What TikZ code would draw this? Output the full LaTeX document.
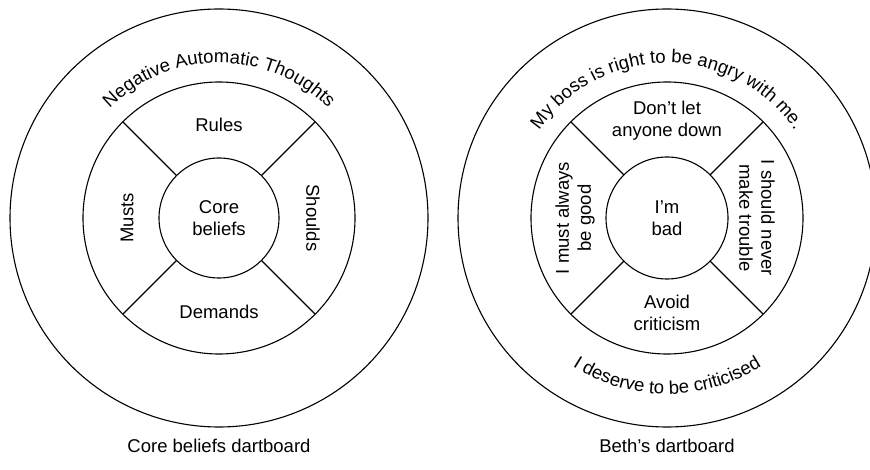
\documentclass[tikz,border=0pt]{standalone}
\usepackage{fontspec}
\setmainfont{Liberation Sans}
\usepackage{tikz}
\usetikzlibrary{positioning,decorations.text}
\newcommand{\boardfont}{\fontsize{18.5}{22}\selectfont}
\tikzstyle{ring} = [circle, draw, line width=1.1pt, inner sep=0pt, outer sep=0pt]
\tikzstyle{word} = [font=\boardfont, align=center, inner sep=0pt]
\tikzstyle{divider} = [line width=1.1pt]

\begin{document}
\begin{tikzpicture}[x=1pt, y=-1pt]
    \useasboundingbox (0,0) rectangle (870,470);
    \clip (0,0) rectangle (870,470);

    \node (outerL) [ring, minimum size=418pt] at (219,218) {};
    \node (midL) [ring, minimum size=272pt] at (219,218) {};
    \node (coreL) [ring, word, minimum size=120pt] at (219,218) {Core\\beliefs};
    \draw [divider] (coreL.north west) -- (midL.north west);
    \draw [divider] (coreL.north east) -- (midL.north east);
    \draw [divider] (coreL.south west) -- (midL.south west);
    \draw [divider] (coreL.south east) -- (midL.south east);
    \node (rulesL) [word, above of=coreL, node distance=93pt] {Rules};
    \node (demandsL) [word, below of=coreL, node distance=94pt] {Demands};
    \node (mustsL) [word, left of=coreL, node distance=92pt, rotate=90] {Musts};
    \node (shouldsL) [word, right of=coreL, node distance=94pt, rotate=-90] {Shoulds};
    \path [decorate, decoration={text along path, text align=center, text={|\boardfont|Negative Automatic Thoughts}}]
        (outerL.center) ++(135:155pt) arc[start angle=135, end angle=45, radius=155pt];
    \node (captionL) [word, below of=outerL, node distance=228pt] {Core beliefs dartboard};

    \node (outerR) [ring, minimum size=418pt] at (667,218) {};
    \node (midR) [ring, minimum size=272pt] at (667,218) {};
    \node (coreR) [ring, word, minimum size=122pt] at (667,218) {I’m\\bad};
    \draw [divider] (coreR.north west) -- (midR.north west);
    \draw [divider] (coreR.north east) -- (midR.north east);
    \draw [divider] (coreR.south west) -- (midR.south west);
    \draw [divider] (coreR.south east) -- (midR.south east);
    \node (letdownR) [word, above of=coreR, node distance=97pt] {Don’t let\\anyone down};
    \node (criticismR) [word, below of=coreR, node distance=95pt] {Avoid\\criticism};
    \node (goodR) [word, left of=coreR, node distance=92pt, rotate=90] {I must always\\be good};
    \node (troubleR) [word, right of=coreR, node distance=90pt, rotate=-90] {I should never\\make trouble};
    \path [decorate, decoration={text along path, text align=center, text={|\boardfont|My boss is right to be angry with me.}}]
        (outerR.center) ++(147:155pt) arc[start angle=147, end angle=33, radius=155pt];
    \path [decorate, decoration={text along path, text align=center, text={|\boardfont|I deserve to be criticised}}]
        (outerR.center) ++(232:176pt) arc[start angle=232, end angle=308, radius=176pt];
    \node (captionR) [word, below of=outerR, node distance=228pt] {Beth’s dartboard};
\end{tikzpicture}
\end{document}
